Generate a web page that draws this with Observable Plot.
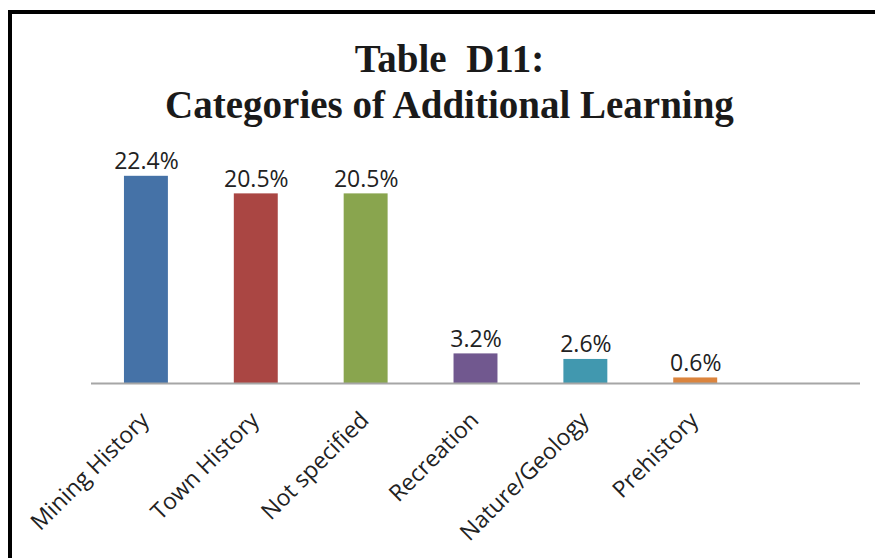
<!DOCTYPE html>
<html>
<head>
<meta charset="utf-8">
<script src="https://cdn.jsdelivr.net/npm/d3@7"></script>
<script src="https://cdn.jsdelivr.net/npm/@observablehq/plot@0.6"></script>
<style>
  html, body { margin: 0; padding: 0; background: #fff; }
  #wrap { position: relative; width: 875px; height: 558px; overflow: hidden; background: #fff; }
  #frame { position: absolute; left: 8px; top: 10px; width: 1000px; height: 700px; border-left: 4px solid #000; border-top: 4px solid #000; box-sizing: border-box; }
  #title { position: absolute; left: 12px; width: 875px; top: 36px; text-align: center;
           font-family: "Liberation Serif", "DejaVu Serif", serif; font-weight: bold;
           font-size: 39px; line-height: 46px; color: #1a1a1a; }
  #chart { position: absolute; left: 0; top: 0; }
</style>
</head>
<body>
<div id="wrap">
  <div id="frame"></div>
  <div id="chart"></div>
  <div id="title">Table&nbsp; D11:<br>Categories of Additional Learning</div>
</div>
<script>
const categories = ["Mining History", "Town History", "Not specified", "Recreation", "Nature/Geology", "Prehistory", " "];
const values = [22.4, 20.5, 20.5, 3.2, 2.6, 0.6];
const colors = ["#4572a7", "#aa4643", "#89a54e", "#71588f", "#4198af", "#db843d"];

const data = values.map((v, i) => ({ category: categories[i], value: v, color: colors[i] }));
const labelCats = categories.filter(c => c.trim() !== "");

const chart = Plot.plot({
  width: 875,
  height: 558,
  marginLeft: 91,
  marginRight: 15,
  marginTop: 161,
  marginBottom: 175,
  style: { fontFamily: "'Open Sans', sans-serif", background: "transparent" },
  x: { domain: categories, paddingInner: 0.6, paddingOuter: 0.3, round: false, axis: null },
  y: { domain: [0, 24], axis: null },
  marks: [
    Plot.barY(data, { x: "category", y: "value", fill: d => d.color }),
    Plot.ruleY([0], { stroke: "#a6a6a6", strokeWidth: 2 }),
    Plot.text(data, {
      x: "category", y: "value",
      text: d => d.value.toFixed(1) + "%",
      lineAnchor: "bottom", dy: -7,
      fontSize: 23, fill: "#222"
    }),
    Plot.text(labelCats, {
      x: d => d, frameAnchor: "bottom",
      text: d => d,
      rotate: -45, textAnchor: "end", lineAnchor: "bottom",
      dx: 4, dy: 38,
      fontSize: 23, fill: "#222"
    })
  ]
});
document.getElementById("chart").appendChild(chart);
</script>
</body>
</html>
